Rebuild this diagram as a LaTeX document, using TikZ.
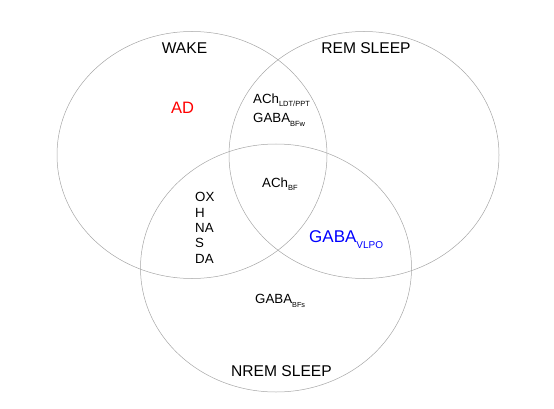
\documentclass[tikz,border=0pt]{standalone}
\usepackage{fontspec}
\setmainfont{Liberation Sans}
\usepackage{tikz}
\usetikzlibrary{positioning}

\newcommand{\lsub}[3]{\raisebox{-#1}{\fontsize{#2}{#2}\selectfont #3}}

\tikzset{
	stateset/.style={draw=black!35, line width=0.5pt},
	statename/.style={anchor=base, inner sep=0pt, font=\fontsize{15.6}{18}\selectfont},
	cellname/.style={anchor=base west, inner sep=0pt, font=\fontsize{13.3}{15.3}\selectfont}
}

\begin{document}
\begin{tikzpicture}[x=1pt, y=-1pt]
		\useasboundingbox (0,0) rectangle (554,409);

		% the three states
		\draw[stateset] (192, 155) ellipse [x radius=135pt, y radius=123.5pt];
		\draw[stateset] (364, 155) ellipse [x radius=135pt, y radius=123.5pt];
		\draw[stateset] (276, 268) ellipse [x radius=135.5pt, y radius=124pt];

		\node[statename] (wake) at (184.5, 54) {WAKE};
		\node[statename] (rem) at (366, 54) {REM SLEEP};
		\node[statename] (nrem) at (281.5, 376) {NREM SLEEP};

		% cells of each region
		\node[statename, font=\fontsize{16.5}{18}\selectfont, text=red] (ad) at (182.5, 114) {AD};
		\node[cellname] (achldt) at (253, 104) {ACh\lsub{3pt}{7.5}{LDT/PPT}};
		\node[cellname] (gababfw) at (253, 123) {GABA\lsub{4pt}{7.5}{BFw}};
		\node[cellname] (achbf) at (262, 187) {ACh\lsub{3pt}{7.5}{BF}};
		\node[cellname, align=left] (mono) at (195, 263) {OX\\H\\NA\\S\\DA};
		\node[cellname, font=\fontsize{17}{18}\selectfont, text=blue] (gabavlpo) at (309, 242) {GABA\lsub{6pt}{10}{VLPO}};
		\node[cellname] (gababfs) at (255, 303) {GABA\lsub{4pt}{7.3}{BFs}};

	\end{tikzpicture}
\end{document}
